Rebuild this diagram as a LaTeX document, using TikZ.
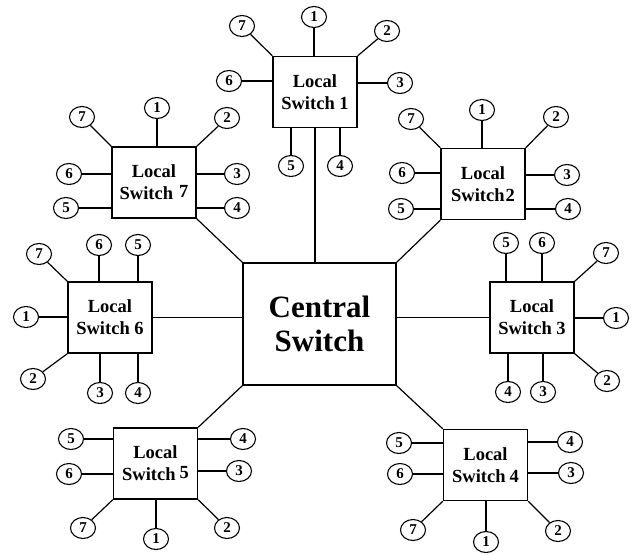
\documentclass[tikz,border=0pt]{standalone}
\usepackage{fontspec}
\setmainfont{Liberation Serif}
\usetikzlibrary{shapes.geometric}
\tikzset{
  lsbox/.style={draw, line width=1.4pt, minimum width=84pt, minimum height=71pt, inner sep=0pt, align=center, font=\bfseries\fontsize{18.5}{22}\selectfont},
  csbox/.style={draw, line width=1.4pt, minimum width=153pt, minimum height=122pt, inner sep=0pt, align=center, font=\bfseries\fontsize{31}{34}\selectfont},
  port/.style={ellipse, draw, line width=1.1pt, minimum width=25pt, minimum height=21pt, inner sep=0pt, font=\bfseries\fontsize{15}{15}\selectfont},
  link/.style={line width=1.2pt}
}
\begin{document}
\begin{tikzpicture}[x=1pt,y=-1pt]
\useasboundingbox (0,0) rectangle (631,554);
% central
\node[csbox] (cs) at (319.5,324) {Central\\Switch};
% local switches
\node[lsbox] (ls1) at (315,92) {Local\\Switch 1};
\node[lsbox] (ls7) at (154,182.5) {Local\\Switch\hspace{6pt}\raisebox{2pt}{7}};
\node[lsbox] (ls2) at (483,184) {Local\\Switch\hspace{1pt}2};
\node[lsbox] (ls6) at (110,317.5) {Local\\Switch 6};
\node[lsbox] (ls3) at (532,317.5) {Local\\Switch 3};
\node[lsbox] (ls5) at (155.5,463.5) {Local\\Switch\hspace{4pt}\raisebox{2pt}{5}};
\node[lsbox] (ls4) at (485.5,465) {Local\\Switch\hspace{4pt}4};
% central links
\draw[link] (ls1.south) -- (ls1.south |- cs.north);
\draw[link] (ls7.south east) -- (cs.north west);
\draw[link] (ls2.south west) -- (cs.north east);
\draw[link] (ls6.east) -- (cs.west |- ls6.east);
\draw[link] (ls3.west) -- (cs.east |- ls3.west);
\draw[link] (ls5.north east) -- (cs.south west);
\draw[link] (ls4.north west) -- (cs.south east);
% LS1 ports
\node[port] (a1) at (314,17) {1};
\node[port] (a7) at (242,26) {7};
\node[port] (a2) at (387,31) {2};
\node[port] (a6) at (229,81) {6};
\node[port] (a3) at (400,83) {3};
\node[port] (a5) at (291,166) {5};
\node[port] (a4) at (340,166) {4};
\draw[link] (a1) -- (a1 |- ls1.north);
\draw[link] (ls1.north west) -- (a7);
\draw[link] (ls1.north east) -- (a2);
\draw[link] (a6) -- (a6 -| ls1.west);
\draw[link] (a3) -- (a3 -| ls1.east);
\draw[link] (a5) -- (a5 |- ls1.south);
\draw[link] (a4) -- (a4 |- ls1.south);
% LS7 ports
\node[port] (g1) at (157,108) {1};
\node[port] (g7) at (82,117) {7};
\node[port] (g2) at (227,118) {2};
\node[port] (g6) at (69,174) {6};
\node[port] (g5) at (66,208) {5};
\node[port] (g3) at (237,174) {3};
\node[port] (g4) at (237,208) {4};
\draw[link] (g1) -- (g1 |- ls7.north);
\draw[link] (ls7.north west) -- (g7);
\draw[link] (ls7.north east) -- (g2);
\draw[link] (g6) -- (g6 -| ls7.west);
\draw[link] (g5) -- (g5 -| ls7.west);
\draw[link] (g3) -- (g3 -| ls7.east);
\draw[link] (g4) -- (g4 -| ls7.east);
% LS2 ports
\node[port] (b1) at (482,110) {1};
\node[port] (b7) at (411,119) {7};
\node[port] (b2) at (556,117) {2};
\node[port] (b6) at (402,173) {6};
\node[port] (b5) at (401,209) {5};
\node[port] (b3) at (567,175) {3};
\node[port] (b4) at (568,209) {4};
\draw[link] (b1) -- (b1 |- ls2.north);
\draw[link] (ls2.north west) -- (b7);
\draw[link] (ls2.north east) -- (b2);
\draw[link] (b6) -- (b6 -| ls2.west);
\draw[link] (b5) -- (b5 -| ls2.west);
\draw[link] (b3) -- (b3 -| ls2.east);
\draw[link] (b4) -- (b4 -| ls2.east);
% LS6 ports
\node[port] (f6) at (99,245) {6};
\node[port] (f5) at (138,245) {5};
\node[port] (f7) at (39,254) {7};
\node[port] (f1) at (26,317) {1};
\node[port] (f2) at (33,379) {2};
\node[port] (f3) at (100,393) {3};
\node[port] (f4) at (138,393) {4};
\draw[link] (f6) -- (f6 |- ls6.north);
\draw[link] (f5) -- (f5 |- ls6.north);
\draw[link] (ls6.north west) -- (f7);
\draw[link] (f1) -- (f1 -| ls6.west);
\draw[link] (ls6.south west) -- (f2);
\draw[link] (f3) -- (f3 |- ls6.south);
\draw[link] (f4) -- (f4 |- ls6.south);
% LS3 ports
\node[port] (c5) at (506,243) {5};
\node[port] (c6) at (542,243) {6};
\node[port] (c7) at (606,253) {7};
\node[port] (c1) at (616,318) {1};
\node[port] (c2) at (607,381) {2};
\node[port] (c4) at (508,392) {4};
\node[port] (c3) at (543,392) {3};
\draw[link] (c5) -- (c5 |- ls3.north);
\draw[link] (c6) -- (c6 |- ls3.north);
\draw[link] (ls3.north east) -- (c7);
\draw[link] (c1) -- (c1 -| ls3.east);
\draw[link] (ls3.south east) -- (c2);
\draw[link] (c4) -- (c4 |- ls3.south);
\draw[link] (c3) -- (c3 |- ls3.south);
% LS5 ports
\node[port] (e5) at (71,439) {5};
\node[port] (e6) at (69,474) {6};
\node[port] (e4) at (243,439) {4};
\node[port] (e3) at (239,471) {3};
\node[port] (e7) at (83,528) {7};
\node[port] (e1) at (156,539) {1};
\node[port] (e2) at (227,528) {2};
\draw[link] (e5) -- (e5 -| ls5.west);
\draw[link] (e6) -- (e6 -| ls5.west);
\draw[link] (e4) -- (e4 -| ls5.east);
\draw[link] (e3) -- (e3 -| ls5.east);
\draw[link] (ls5.south west) -- (e7);
\draw[link] (e1) -- (e1 |- ls5.south);
\draw[link] (ls5.south east) -- (e2);
% LS4 ports
\node[port] (d5) at (399,443) {5};
\node[port] (d6) at (400,474) {6};
\node[port] (d4) at (570,442) {4};
\node[port] (d3) at (571,473) {3};
\node[port] (d7) at (413,530) {7};
\node[port] (d1) at (486,542) {1};
\node[port] (d2) at (558,531) {2};
\draw[link] (d5) -- (d5 -| ls4.west);
\draw[link] (d6) -- (d6 -| ls4.west);
\draw[link] (d4) -- (d4 -| ls4.east);
\draw[link] (d3) -- (d3 -| ls4.east);
\draw[link] (ls4.south west) -- (d7);
\draw[link] (d1) -- (d1 |- ls4.south);
\draw[link] (ls4.south east) -- (d2);
\end{tikzpicture}
\end{document}
